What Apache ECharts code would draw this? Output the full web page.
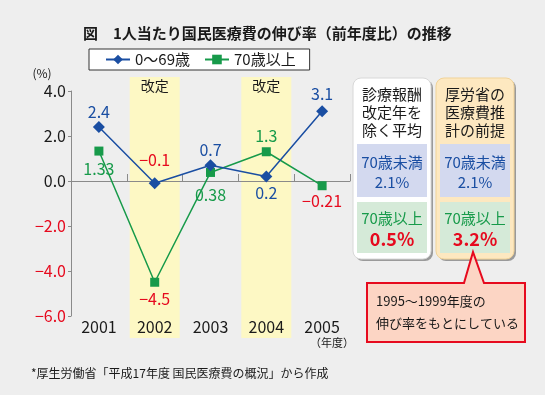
<!DOCTYPE html>
<html><head><meta charset="utf-8">
<script src="https://cdn.jsdelivr.net/npm/echarts@6/dist/echarts.min.js"></script>
<style>html,body{margin:0;padding:0;background:#eeeeee}#c{width:545px;height:395px}</style>
</head><body><div id="c"></div>
<script>
const categories = ['2001', '2002', '2003', '2004', '2005'];
const under70 = [2.4, -0.1, 0.7, 0.2, 3.1];
const over70 = [1.33, -4.5, 0.38, 1.3, -0.21];
const yMin = -6, yMax = 4, yInterval = 2;
const revisionYears = ['2002', '2004'];
const seriesNames = ['0〜69歳', '70歳以上'];
const panelTitles = ['診療報酬\n改定年を\n除く平均', '厚労省の\n医療費推\n計の前提'];
const panelUnder70 = ['2.1%', '2.1%'];
const panelOver70 = ['0.5%', '3.2%'];

const FONT = '"Noto Sans CJK JP", "Noto Sans", sans-serif';
const BLUE = '#1a4ea2', GREEN = '#179a4a', RED = '#e60a1e', BLACK = '#1a1a1a';

// label styling (placement side and distance) — presentation only
const blueLabelSide = ['top', 'top', 'top', 'bottom', 'top'];
const blueLabelDist = [1, 9, 1, 2, 3];
const greenLabelSide = ['bottom', 'bottom', 'bottom', 'top', 'bottom'];
const greenLabelDist = [5, 4, 10, 3, 3];

function fmt(v) { return String(v).replace('-', '−'); }
function buildData(vals, color, sides, dists) {
  return vals.map((v, i) => ({
    value: v,
    label: { show: true, position: sides[i], distance: dists[i], color: v < 0 ? RED : color,
      formatter: fmt(v), fontSize: 16, fontFamily: FONT }
  }));
}

const chart = echarts.init(document.getElementById('c'));
const gridL = 71, gridT = 91, gridR = 195, gridB = 79;

chart.setOption({
  backgroundColor: '#eeeeee',
  animation: false,
  title: { text: '図　1人当たり国民医療費の伸び率（前年度比）の推移', left: 78, top: 21,
    textStyle: { fontSize: 15, fontWeight: 'bold', color: BLACK, fontFamily: FONT } },
  legend: {
    left: 89, top: 49, padding: [3, 14, 3, 16], itemGap: 14,
    backgroundColor: '#ffffff', borderColor: '#333', borderWidth: 1, borderRadius: 0,
    itemWidth: 24, itemHeight: 12,
    textStyle: { fontSize: 15, color: BLACK, fontFamily: FONT },
    data: seriesNames
  },
  grid: { left: gridL, top: gridT, right: gridR, bottom: gridB, containLabel: false },
  xAxis: [
    { type: 'category', data: categories, position: 'bottom', boundaryGap: true,
      axisLine: { show: true, onZero: true, lineStyle: { color: '#8a8a8a', width: 1 } },
      axisTick: { show: true, inside: true, length: 7, lineStyle: { color: '#8a8a8a' } },
      axisLabel: { show: false }, splitLine: { show: false } },
    { type: 'category', data: categories, position: 'bottom', boundaryGap: true,
      axisLine: { show: false, onZero: false }, axisTick: { show: false },
      axisLabel: { show: true, fontSize: 16, color: BLACK, margin: 3, fontFamily: FONT },
      splitLine: { show: false } }
  ],
  yAxis: {
    type: 'value', min: yMin, max: yMax, interval: yInterval,
    axisLine: { show: true, lineStyle: { color: '#8a8a8a' } },
    axisTick: { show: true, length: 3, lineStyle: { color: '#8a8a8a' } },
    splitLine: { show: false },
    axisLabel: { fontSize: 16, margin: 5, fontFamily: FONT,
      formatter: v => (v < 0 ? '−' : '') + Math.abs(v).toFixed(1),
      color: v => (Number(v) < 0 ? RED : BLACK) }
  },
  series: [
    { name: seriesNames[0], type: 'line', xAxisIndex: 0, symbol: 'diamond', symbolSize: 12,
      lineStyle: { color: BLUE, width: 1.5 }, itemStyle: { color: BLUE }, z: 5,
      data: buildData(under70, BLUE, blueLabelSide, blueLabelDist) },
    { name: seriesNames[1], type: 'line', xAxisIndex: 0, symbol: 'rect', symbolSize: 9,
      lineStyle: { color: GREEN, width: 1.5 }, itemStyle: { color: GREEN }, z: 4,
      data: buildData(over70, GREEN, greenLabelSide, greenLabelDist) }
  ]
});

function buildGraphics() {
  const els = [];
  // revision bands
  revisionYears.forEach(y => {
    const cx = chart.convertToPixel({ xAxisIndex: 0 }, y);
    els.push({ type: 'rect', z: -10, silent: true, shape: { x: cx - 25, y: 77, width: 50, height: 261 },
      style: { fill: '#fdf8c4' } });
    els.push({ type: 'text', z: 10, style: { text: '改定', x: cx, y: 86, align: 'center', verticalAlign: 'middle',
      fontSize: 14, fill: BLACK, fontFamily: FONT } });
  });
  els.push({ type: 'text', style: { text: '(%)', x: 42, y: 73, align: 'center', verticalAlign: 'middle',
    fontSize: 12, fill: BLACK, fontFamily: FONT } });
  els.push({ type: 'text', style: { text: '（年度）', x: 354, y: 343, align: 'right', verticalAlign: 'middle',
    fontSize: 11, fill: BLACK, fontFamily: FONT } });
  els.push({ type: 'text', style: { text: '*厚生労働省「平成17年度 国民医療費の概況」から作成', x: 31, y: 373,
    align: 'left', verticalAlign: 'middle', fontSize: 12, fill: BLACK, fontFamily: FONT } });

  // panels
  const panelX = [353, 436];
  const panelFill = ['#ffffff', '#fde8c0'];
  const panelStroke = ['#d8d8d8', '#f1d398'];
  panelX.forEach((px, i) => {
    const cx = px + 39;
    els.push({ type: 'rect', shape: { x: px + 2, y: 80, width: 78, height: 181, r: 8 }, style: { fill: '#9a9a9a' } });
    els.push({ type: 'rect', shape: { x: px, y: 78, width: 78, height: 181, r: 8 },
      style: { fill: panelFill[i], stroke: panelStroke[i], lineWidth: 1 } });
    els.push({ type: 'text', style: { text: panelTitles[i], x: cx, y: 85, align: 'center', verticalAlign: 'top',
      fontSize: 15, lineHeight: 18, fill: BLACK, fontFamily: FONT } });
    els.push({ type: 'rect', shape: { x: px + 4, y: 144, width: 70, height: 53 }, style: { fill: '#d3d9ef' } });
    els.push({ type: 'text', style: { text: '70歳未満', x: cx, y: 162, align: 'center', verticalAlign: 'middle',
      fontSize: 15, fill: BLUE, fontFamily: FONT } });
    els.push({ type: 'text', style: { text: panelUnder70[i], x: cx, y: 182, align: 'center', verticalAlign: 'middle',
      fontSize: 15, fill: BLUE, fontFamily: FONT } });
    els.push({ type: 'rect', shape: { x: px + 4, y: 202, width: 70, height: 51 }, style: { fill: '#d5ead8' } });
    els.push({ type: 'text', style: { text: '70歳以上', x: cx, y: 218, align: 'center', verticalAlign: 'middle',
      fontSize: 15, fill: GREEN, fontFamily: FONT } });
    els.push({ type: 'text', style: { text: panelOver70[i], x: cx, y: 239, align: 'center', verticalAlign: 'middle',
      fontSize: 18, fontWeight: 'bold', fill: RED, fontFamily: FONT } });
  });

  // callout
  els.push({ type: 'polygon', shape: { points: [[367, 283], [464, 283], [473, 252], [484, 283], [525, 283], [525, 342], [367, 342]] },
    style: { fill: '#fcd5c4', stroke: '#e60a1e', lineWidth: 2 } });
  els.push({ type: 'text', style: { text: '1995〜1999年度の\n伸び率をもとにしている', x: 376, y: 312, align: 'left',
    verticalAlign: 'middle', fontSize: 13, lineHeight: 22, fill: BLACK, fontFamily: FONT } });
  return els;
}
chart.setOption({ graphic: buildGraphics() });
</script></body></html>
